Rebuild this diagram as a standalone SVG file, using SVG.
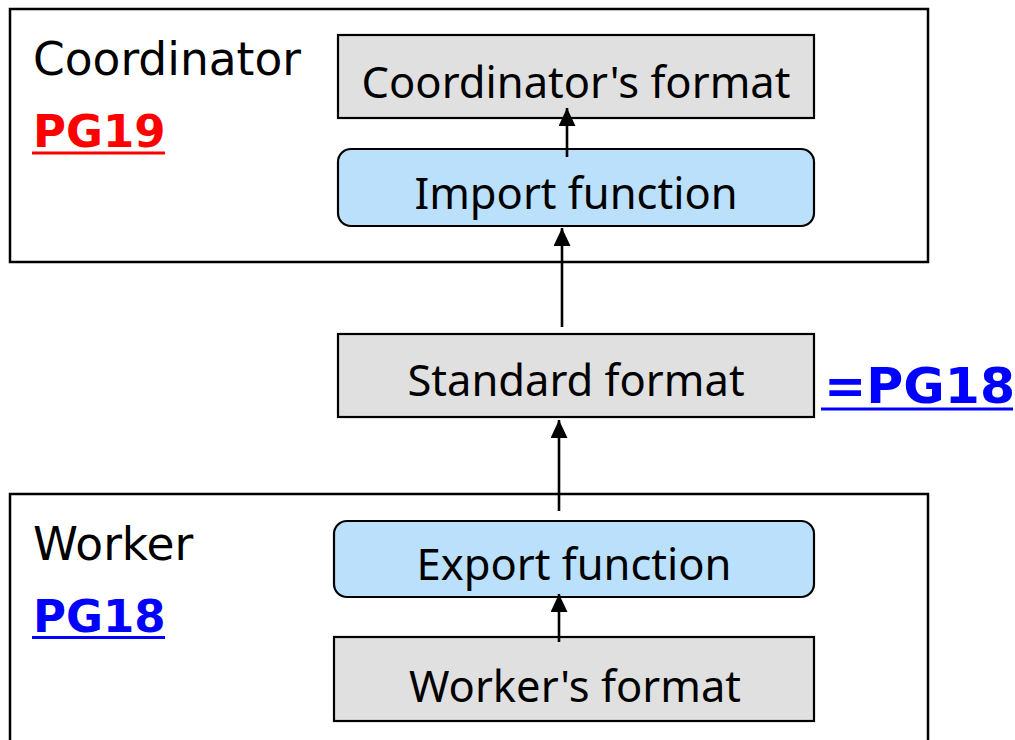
<svg xmlns="http://www.w3.org/2000/svg" width="1015" height="740" viewBox="0 0 1015 740">
  <style>
    .frame { fill: #ffffff; stroke: #000000; stroke-width: 2.5; }
    .fmt { fill: #e0e0e0; stroke: #000000; stroke-width: 2.2; }
    .fn { fill: #bbe0fc; stroke: #000000; stroke-width: 2.2; }
    .box-text { font-family: "Noto Sans", "Open Sans", sans-serif; font-size: 43.5px; fill: #000000; text-anchor: middle; }
    .role { font-family: "DejaVu Sans", Verdana, sans-serif; font-size: 45.5px; fill: #000000; }
    .link { font-family: "DejaVu Sans", Verdana, sans-serif; font-weight: bold; font-size: 45px; }
    .link-big { font-size: 50.5px; }
    .edge { stroke: #000000; stroke-width: 2.6; fill: none; marker-end: url(#arrow); }
  </style>
  <defs>
    <marker id="arrow" markerUnits="userSpaceOnUse" markerWidth="19" markerHeight="18" refX="18" refY="8.5" orient="auto">
      <path d="M0,0 L18,8.5 L0,17 Z" fill="#000000"/>
    </marker>
  </defs>

  <rect width="1015" height="740" fill="#ffffff"/>

  <!-- Coordinator side -->
  <g id="coordinator">
    <rect class="frame" x="10" y="9" width="918" height="253"/>
    <text class="role" x="33" y="75">Coordinator</text>
    <text class="link" x="33" y="147" fill="#ff0000">PG19</text>
    <rect x="32" y="151.5" width="133" height="3" fill="#ff0000"/>
  </g>

  <!-- Worker side -->
  <g id="worker">
    <rect class="frame" x="10" y="494" width="918" height="260"/>
    <text class="role" x="33" y="560">Worker</text>
    <text class="link" x="33" y="632" fill="#0000ff">PG18</text>
    <rect x="32" y="636" width="133" height="3" fill="#0000ff"/>
  </g>

  <g id="coordinators-format">
    <rect class="fmt" x="338" y="35" width="476" height="83"/>
    <text class="box-text" x="576" y="98">Coordinator's format</text>
  </g>

  <g id="import-function">
    <rect class="fn" x="338" y="149" width="476" height="77" rx="13" ry="13"/>
    <text class="box-text" x="576" y="209">Import function</text>
  </g>

  <g id="standard-format">
    <rect class="fmt" x="338" y="334" width="476" height="83"/>
    <text class="box-text" x="576" y="396">Standard format</text>
  </g>

  <g id="standard-link">
    <text class="link link-big" x="824" y="403" fill="#0000ff">=PG18</text>
    <rect x="821" y="407.5" width="192" height="3" fill="#0000ff"/>
  </g>

  <g id="export-function">
    <rect class="fn" x="334" y="521" width="480" height="76" rx="13" ry="13"/>
    <text class="box-text" x="574" y="580">Export function</text>
  </g>

  <g id="workers-format">
    <rect class="fmt" x="334" y="637" width="480" height="84"/>
    <text class="box-text" x="575" y="702">Worker's format</text>
  </g>

  <!-- connectors -->
  <g id="connectors">
    <line class="edge" x1="567" y1="157" x2="567" y2="108"/>
    <line class="edge" x1="562" y1="327" x2="562" y2="228"/>
    <line class="edge" x1="559" y1="511" x2="559" y2="420"/>
    <line class="edge" x1="559" y1="642" x2="559" y2="594"/>
  </g>
</svg>
